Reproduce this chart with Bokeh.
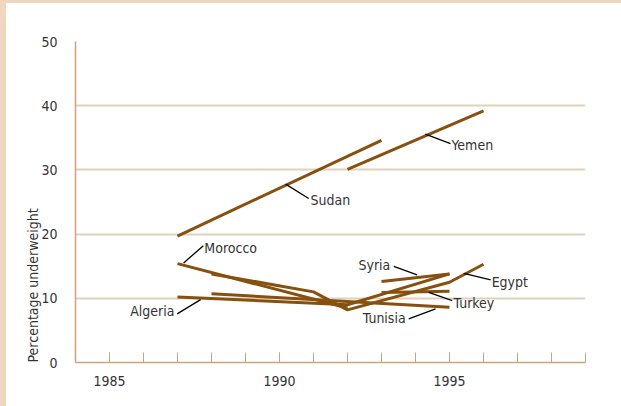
from bokeh.plotting import figure
from bokeh.models import FixedTicker, ColumnDataSource, Spacer, Title
from bokeh.layouts import row, column
from bokeh.core.properties import value
from bokeh.embed import file_html
from bokeh.resources import INLINE

# ---- data ----
sudan_years = [1987, 1993]
sudan_vals = [19.7, 34.6]
yemen_years = [1992, 1996]
yemen_vals = [30.1, 39.2]
morocco_years = [1987, 1992]
morocco_vals = [15.4, 8.5]
egypt_years = [1988, 1991, 1992, 1995, 1996]
egypt_vals = [13.8, 11.0, 8.2, 12.5, 15.3]
algeria_years = [1987, 1992, 1995]
algeria_vals = [10.2, 9.0, 13.8]
tunisia_years = [1988, 1995]
tunisia_vals = [10.7, 8.6]
syria_years = [1993, 1995]
syria_vals = [12.6, 13.8]
turkey_years = [1993, 1995]
turkey_vals = [10.9, 11.1]

series = [
    (sudan_years, sudan_vals), (yemen_years, yemen_vals),
    (morocco_years, morocco_vals), (egypt_years, egypt_vals),
    (algeria_years, algeria_vals), (tunisia_years, tunisia_vals),
    (syria_years, syria_vals), (turkey_years, turkey_vals),
]

label_names = ["Morocco", "Algeria", "Syria", "Egypt", "Turkey", "Tunisia", "Sudan", "Yemen"]
label_x = [1987.79, 1986.91, 1993.26, 1996.24, 1995.12, 1993.71, 1990.91, 1995.06]
label_y = [17.8, 8.0, 15.2, 12.5, 9.2, 7.0, 25.35, 33.95]
label_align = ["left", "right", "right", "left", "left", "right", "left", "left"]

leader_x0 = [1987.18, 1986.99, 1993.36, 1995.42, 1994.39, 1993.80, 1990.18, 1994.29]
leader_y0 = [15.5, 7.57, 14.98, 13.89, 10.93, 6.80, 27.79, 35.57]
leader_x1 = [1987.76, 1987.68, 1994.05, 1996.21, 1995.08, 1994.59, 1990.86, 1995.03]
leader_y1 = [18.2, 9.8, 13.64, 12.86, 9.64, 8.35, 25.55, 34.1]

x_major = [1985, 1990, 1995]
x_minor = list(range(1985, 2000))
y_ticks = [0, 10, 20, 30, 40, 50]

FONT = "'DejaVu Sans Condensed', 'Roboto Condensed', 'Liberation Sans Narrow', Roboto, sans-serif"
FSIZE = "14px"
TAN = "#c9a57f"
GRID = "#e3d1bb"
LINE = "#87500e"
TEXT = "#333333"
BEIGE = "#eed7be"

p = figure(frame_width=510, frame_height=321, x_range=(1984, 1999), y_range=(0, 50),
           output_backend="svg", toolbar_location=None,
           min_border_left=69, min_border_right=36, min_border_top=38, min_border_bottom=44)
p.outline_line_color = None
p.background_fill_color = "white"
p.border_fill_color = "white"

p.xgrid.visible = False
p.ygrid.ticker = FixedTicker(ticks=y_ticks[1:])
p.ygrid.grid_line_color = GRID
p.ygrid.grid_line_width = 2

p.yaxis.ticker = FixedTicker(ticks=y_ticks)
p.yaxis.major_tick_line_color = None
p.yaxis.minor_tick_line_color = None
p.yaxis.major_tick_in = 0
p.yaxis.major_tick_out = 0
p.yaxis.minor_tick_in = 0
p.yaxis.minor_tick_out = 0
p.yaxis.axis_line_color = TAN
p.yaxis.axis_line_width = 1.5
p.yaxis.major_label_standoff = 18
p.yaxis.major_label_text_font = FONT
p.yaxis.major_label_text_font_size = FSIZE
p.yaxis.major_label_text_color = TEXT

p.xaxis.ticker = FixedTicker(ticks=x_major, minor_ticks=x_minor)
p.xaxis.axis_line_color = TAN
p.xaxis.axis_line_width = 1.5
p.xaxis.major_tick_line_color = TAN
p.xaxis.minor_tick_line_color = TAN
p.xaxis.major_tick_in = 10
p.xaxis.major_tick_out = 0
p.xaxis.minor_tick_in = 10
p.xaxis.minor_tick_out = 0
p.xaxis.major_label_standoff = 13
p.xaxis.major_label_text_font = FONT
p.xaxis.major_label_text_font_size = FSIZE
p.xaxis.major_label_text_color = TEXT

p.add_layout(Title(text="Percentage underweight", align="left", text_font=FONT,
                   text_font_size=FSIZE, text_font_style="normal", text_color=TEXT,
                   standoff=-5), "left")

for xs, ys in series:
    p.line(xs, ys, line_color=LINE, line_width=3)

p.segment(leader_x0, leader_y0, leader_x1, leader_y1, line_color="black", line_width=1.3)

src = ColumnDataSource(dict(x=label_x, y=label_y, t=label_names, a=label_align))
p.text(x="x", y="y", text="t", text_align="a", text_baseline="middle", source=src,
       text_font=value(FONT), text_font_size=FSIZE, text_color=TEXT)

left_strip = Spacer(width=6, height=406, styles={"background-color": BEIGE})
top_strip = Spacer(width=615, height=3, styles={"background-color": BEIGE})
layout = row(left_strip, column(top_strip, p))

open("out.html", "w").write(file_html(layout, INLINE))
